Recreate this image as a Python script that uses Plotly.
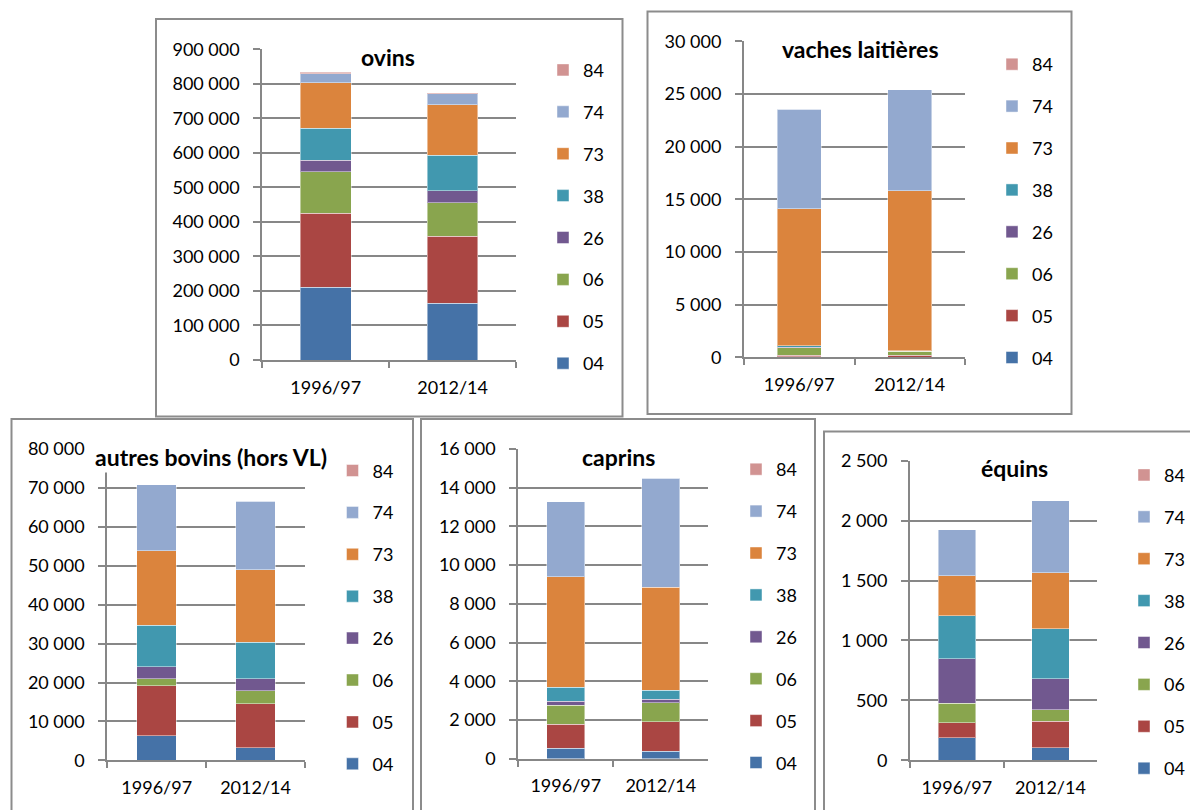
import plotly.graph_objects as go

W, H = 1190, 810

categories = ["1996/97", "2012/14"]
departements = ["04", "05", "06", "26", "38", "73", "74", "84"]
colors = ["#4572A7", "#AA4643", "#89A54E", "#71588F", "#4198AF", "#DB843D", "#93A9CF", "#D19392"]

# values per département: [1996/97, 2012/14]
ovins = {
    "04": [210500, 164200], "05": [214000, 194100], "06": [120700, 97500], "26": [33000, 34800],
    "38": [92700, 102400], "73": [132300, 146700], "74": [26100, 31900], "84": [4000, 1000],
}
vaches = {
    "04": [30, 20], "05": [150, 160], "06": [740, 380], "26": [20, 20],
    "38": [170, 40], "73": [13000, 15200], "74": [9430, 9560], "84": [0, 0],
}
autres_bovins = {
    "04": [6340, 3170], "05": [12770, 11400], "06": [1800, 3340], "26": [3170, 3080],
    "38": [10620, 9340], "73": [19200, 18680], "74": [16880, 17570], "84": [0, 0],
}
caprins = {
    "04": [551, 379], "05": [1240, 1532], "06": [981, 982], "26": [207, 172],
    "38": [706, 482], "73": [5717, 5321], "74": [3875, 5631], "84": [0, 0],
}
equins = {
    "04": [189, 106], "05": [125, 219], "06": [162, 95], "26": [372, 261],
    "38": [359, 418], "73": [331, 467], "74": [386, 600], "84": [0, 0],
}

titles = ["ovins", "vaches laitières", "autres bovins (hors VL)", "caprins", "équins"]
datasets = [ovins, vaches, autres_bovins, caprins, equins]
y_max = [900000, 30000, 80000, 16000, 2500]
y_dtick = [100000, 5000, 10000, 2000, 500]

# layout in pixels (left, right, top, bottom) of each plot area
plot_px = [
    (262.3, 516, 49.3, 360),
    (744, 965, 41.3, 357.3),
    (107.3, 305, 449.1, 760.3),
    (518.3, 708.3, 449, 758.7),
    (910, 1097.3, 460.7, 760.3),
]
# panel frames (left, top, right, bottom)
frames_px = [
    (156, 19, 622.5, 416.5),
    (647.5, 11.5, 1071.5, 414),
    (11.5, 419, 413, 815),
    (421, 419, 815, 815),
    (824, 431.5, 1195, 815),
]
# legend anchor (left of square, center of first item)
legend_px = [
    (557, 71.7), (1006, 66), (346.5, 472.3), (750, 471), (1139.5, 476.7),
]
title_px = [(388, 56.7), (860, 49.3), (211, 456.7), (618.3, 457.3), (1014.3, 468.3)]

FONT = "Lato"
GRID = "#878787"

fig = go.Figure()
layout = dict(
    width=W, height=H, margin=dict(l=0, r=0, t=0, b=0, autoexpand=False),
    paper_bgcolor="white", plot_bgcolor="white",
    barmode="stack", bargap=0.6, separators=", ",
    font=dict(family=FONT, size=18, color="black"),
    showlegend=True, shapes=[], annotations=[],
)

for i, (data, title) in enumerate(zip(datasets, titles)):
    n = "" if i == 0 else str(i + 1)
    xa, ya = "x" + n, "y" + n
    leg = "legend" + n
    for k, (d, c) in enumerate(zip(departements, colors)):
        fig.add_trace(go.Bar(
            x=categories, y=data[d], name=d, xaxis=xa, yaxis=ya,
            marker=dict(color=c, line=dict(color="rgba(255,255,255,0.45)", width=1)),
            legend=leg, legendgroup=f"p{i}_{d}", legendrank=100 - k, showlegend=True,
        ))
    l, r, t, b = plot_px[i]
    layout["xaxis" + n] = dict(
        domain=[l / W, r / W], anchor=ya, type="category",
        showline=True, linecolor=GRID, linewidth=2, ticks="outside", tickson="boundaries",
        ticklen=6, tickwidth=2, tickcolor=GRID, showgrid=False,
        tickfont=dict(family=FONT, size=18, color="black"), ticklabelstandoff=10,
    )
    layout["yaxis" + n] = dict(
        domain=[1 - b / H, 1 - t / H], anchor=xa, range=[0, y_max[i]], dtick=y_dtick[i],
        tickformat=",d", showline=True, linecolor=GRID, linewidth=2,
        ticks="outside", ticklen=7, tickwidth=2, tickcolor=GRID,
        showgrid=True, gridcolor=GRID, gridwidth=1.5, zeroline=False,
        tickfont=dict(family=FONT, size=18, color="black"), ticklabelstandoff=10,
    )
    lx, ly = legend_px[i]
    leg_def = dict(
        x=(lx - 14) / W, y=1 - (ly - 20) / H, xanchor="left", yanchor="top",
        traceorder="grouped", tracegroupgap=15.5, bgcolor="rgba(0,0,0,0)",
        font=dict(family=FONT, size=18, color="black"), itemwidth=30,
    )
    if i == 4:
        leg_def.update(x=1.0, xanchor="right")
    layout[leg] = leg_def
    fl, ft, fr, fb = frames_px[i]
    layout["shapes"].append(dict(
        type="rect", xref="paper", yref="paper",
        x0=fl / W, x1=fr / W, y0=1 - fb / H, y1=1 - ft / H,
        line=dict(color="#8c8c8c", width=2), fillcolor="rgba(0,0,0,0)", layer="above",
    ))
    tx, ty = title_px[i]
    layout["annotations"].append(dict(
        text=f"<b>{title}</b>", xref="paper", yref="paper", x=tx / W, y=1 - ty / H,
        xanchor="center", yanchor="middle", showarrow=False,
        font=dict(family=FONT, size=23, color="black"),
        bgcolor="white" if i == 2 else "rgba(0,0,0,0)",
    ))

fig.update_layout(**layout)
fig.write_html(
    "out.html",
    config={"displayModeBar": False},
    post_script="document.body.style.margin='0';document.body.style.overflow='hidden';",
)
